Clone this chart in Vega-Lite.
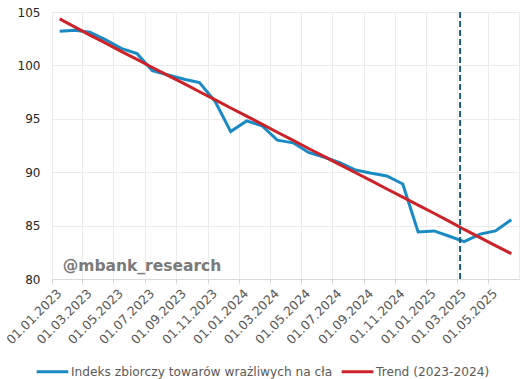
{
  "$schema": "https://vega.github.io/schema/vega-lite/v6.json",
  "autosize": "none",
  "width": 467,
  "height": 267,
  "padding": {"left": 52, "top": 12, "right": 7, "bottom": 100},
  "background": "white",
  "config": {
    "font": "DejaVu Sans",
    "view": {"stroke": "#EBEBEB"}
  },
  "datasets": {
    "series": [
      {"date": "2023-01-16", "value": 103.2, "s": "Indeks zbiorczy towarów wrażliwych na cła"},
      {"date": "2023-02-15", "value": 103.3, "s": "Indeks zbiorczy towarów wrażliwych na cła"},
      {"date": "2023-03-16", "value": 103.1, "s": "Indeks zbiorczy towarów wrażliwych na cła"},
      {"date": "2023-04-16", "value": 102.4, "s": "Indeks zbiorczy towarów wrażliwych na cła"},
      {"date": "2023-05-16", "value": 101.6, "s": "Indeks zbiorczy towarów wrażliwych na cła"},
      {"date": "2023-06-16", "value": 101.1, "s": "Indeks zbiorczy towarów wrażliwych na cła"},
      {"date": "2023-07-16", "value": 99.5, "s": "Indeks zbiorczy towarów wrażliwych na cła"},
      {"date": "2023-08-16", "value": 99.1, "s": "Indeks zbiorczy towarów wrażliwych na cła"},
      {"date": "2023-09-16", "value": 98.7, "s": "Indeks zbiorczy towarów wrażliwych na cła"},
      {"date": "2023-10-16", "value": 98.4, "s": "Indeks zbiorczy towarów wrażliwych na cła"},
      {"date": "2023-11-16", "value": 96.6, "s": "Indeks zbiorczy towarów wrażliwych na cła"},
      {"date": "2023-12-16", "value": 93.8, "s": "Indeks zbiorczy towarów wrażliwych na cła"},
      {"date": "2024-01-16", "value": 94.8, "s": "Indeks zbiorczy towarów wrażliwych na cła"},
      {"date": "2024-02-15", "value": 94.35, "s": "Indeks zbiorczy towarów wrażliwych na cła"},
      {"date": "2024-03-16", "value": 93.0, "s": "Indeks zbiorczy towarów wrażliwych na cła"},
      {"date": "2024-04-16", "value": 92.75, "s": "Indeks zbiorczy towarów wrażliwych na cła"},
      {"date": "2024-05-16", "value": 91.85, "s": "Indeks zbiorczy towarów wrażliwych na cła"},
      {"date": "2024-06-16", "value": 91.4, "s": "Indeks zbiorczy towarów wrażliwych na cła"},
      {"date": "2024-07-16", "value": 90.9, "s": "Indeks zbiorczy towarów wrażliwych na cła"},
      {"date": "2024-08-16", "value": 90.2, "s": "Indeks zbiorczy towarów wrażliwych na cła"},
      {"date": "2024-09-16", "value": 89.9, "s": "Indeks zbiorczy towarów wrażliwych na cła"},
      {"date": "2024-10-16", "value": 89.65, "s": "Indeks zbiorczy towarów wrażliwych na cła"},
      {"date": "2024-11-16", "value": 88.9, "s": "Indeks zbiorczy towarów wrażliwych na cła"},
      {"date": "2024-12-16", "value": 84.4, "s": "Indeks zbiorczy towarów wrażliwych na cła"},
      {"date": "2025-01-16", "value": 84.5, "s": "Indeks zbiorczy towarów wrażliwych na cła"},
      {"date": "2025-02-15", "value": 84.0, "s": "Indeks zbiorczy towarów wrażliwych na cła"},
      {"date": "2025-03-16", "value": 83.5, "s": "Indeks zbiorczy towarów wrażliwych na cła"},
      {"date": "2025-04-16", "value": 84.2, "s": "Indeks zbiorczy towarów wrażliwych na cła"},
      {"date": "2025-05-16", "value": 84.5, "s": "Indeks zbiorczy towarów wrażliwych na cła"},
      {"date": "2025-06-16", "value": 85.55, "s": "Indeks zbiorczy towarów wrażliwych na cła"},
      {"date": "2023-01-16", "value": 104.35, "s": "Trend (2023-2024)"},
      {"date": "2023-02-15", "value": 103.59, "s": "Trend (2023-2024)"},
      {"date": "2023-03-16", "value": 102.83, "s": "Trend (2023-2024)"},
      {"date": "2023-04-16", "value": 102.08, "s": "Trend (2023-2024)"},
      {"date": "2023-05-16", "value": 101.32, "s": "Trend (2023-2024)"},
      {"date": "2023-06-16", "value": 100.56, "s": "Trend (2023-2024)"},
      {"date": "2023-07-16", "value": 99.8, "s": "Trend (2023-2024)"},
      {"date": "2023-08-16", "value": 99.04, "s": "Trend (2023-2024)"},
      {"date": "2023-09-16", "value": 98.29, "s": "Trend (2023-2024)"},
      {"date": "2023-10-16", "value": 97.53, "s": "Trend (2023-2024)"},
      {"date": "2023-11-16", "value": 96.77, "s": "Trend (2023-2024)"},
      {"date": "2023-12-16", "value": 96.01, "s": "Trend (2023-2024)"},
      {"date": "2024-01-16", "value": 95.25, "s": "Trend (2023-2024)"},
      {"date": "2024-02-15", "value": 94.5, "s": "Trend (2023-2024)"},
      {"date": "2024-03-16", "value": 93.74, "s": "Trend (2023-2024)"},
      {"date": "2024-04-16", "value": 92.98, "s": "Trend (2023-2024)"},
      {"date": "2024-05-16", "value": 92.22, "s": "Trend (2023-2024)"},
      {"date": "2024-06-16", "value": 91.46, "s": "Trend (2023-2024)"},
      {"date": "2024-07-16", "value": 90.71, "s": "Trend (2023-2024)"},
      {"date": "2024-08-16", "value": 89.95, "s": "Trend (2023-2024)"},
      {"date": "2024-09-16", "value": 89.19, "s": "Trend (2023-2024)"},
      {"date": "2024-10-16", "value": 88.43, "s": "Trend (2023-2024)"},
      {"date": "2024-11-16", "value": 87.67, "s": "Trend (2023-2024)"},
      {"date": "2024-12-16", "value": 86.92, "s": "Trend (2023-2024)"},
      {"date": "2025-01-16", "value": 86.16, "s": "Trend (2023-2024)"},
      {"date": "2025-02-15", "value": 85.4, "s": "Trend (2023-2024)"},
      {"date": "2025-03-16", "value": 84.64, "s": "Trend (2023-2024)"},
      {"date": "2025-04-16", "value": 83.88, "s": "Trend (2023-2024)"},
      {"date": "2025-05-16", "value": 83.13, "s": "Trend (2023-2024)"},
      {"date": "2025-06-16", "value": 82.37, "s": "Trend (2023-2024)"}
    ],
    "marker": [{"date": "2025-03-08"}],
    "note": [{"date": "2023-01-22", "value": 81.25, "label": "@mbank_research"}]
  },
  "encoding": {
    "x": {
      "field": "date",
      "type": "temporal",
      "scale": {"type": "utc", "domain": [{"year": 2023, "month": 1, "date": 1, "utc": true}, {"year": 2025, "month": 7, "date": 1, "utc": true}]},
      "axis": {
        "title": null,
        "values": [
          {"year": 2023, "month": 1, "date": 1, "utc": true},
          {"year": 2023, "month": 3, "date": 1, "utc": true},
          {"year": 2023, "month": 5, "date": 1, "utc": true},
          {"year": 2023, "month": 7, "date": 1, "utc": true},
          {"year": 2023, "month": 9, "date": 1, "utc": true},
          {"year": 2023, "month": 11, "date": 1, "utc": true},
          {"year": 2024, "month": 1, "date": 1, "utc": true},
          {"year": 2024, "month": 3, "date": 1, "utc": true},
          {"year": 2024, "month": 5, "date": 1, "utc": true},
          {"year": 2024, "month": 7, "date": 1, "utc": true},
          {"year": 2024, "month": 9, "date": 1, "utc": true},
          {"year": 2024, "month": 11, "date": 1, "utc": true},
          {"year": 2025, "month": 1, "date": 1, "utc": true},
          {"year": 2025, "month": 3, "date": 1, "utc": true},
          {"year": 2025, "month": 5, "date": 1, "utc": true}
        ],
        "format": "%d.%m.%Y",
        "labelAngle": -45,
        "labelAlign": "right",
        "labelBaseline": "middle",
        "labelFontSize": 12.5,
        "labelColor": "#595959",
        "labelPadding": 7,
        "labelOffset": 7,
        "labelOverlap": false,
        "labelBound": false,
        "labelFlush": false,
        "domainColor": "#D9D9D9",
        "tickColor": "#D9D9D9",
        "tickSize": 5,
        "gridColor": "#EBEBEB",
        "grid": true
      }
    }
  },
  "layer": [
    {
      "data": {"name": "series"},
      "mark": {"type": "line", "strokeWidth": 3},
      "encoding": {
        "y": {
          "field": "value",
          "type": "quantitative",
          "scale": {"domain": [80, 105], "nice": false, "zero": false},
          "axis": {
            "title": null,
            "values": [80, 85, 90, 95, 100, 105],
            "domain": false,
            "ticks": false,
            "labelPadding": 12,
            "labelFontSize": 12,
            "labelColor": "#262626",
            "gridColor": "#EBEBEB"
          }
        },
        "color": {
          "field": "s",
          "type": "nominal",
          "scale": {
            "domain": ["Indeks zbiorczy towarów wrażliwych na cła", "Trend (2023-2024)"],
            "range": ["#1A8AC4", "#CC2229"]
          },
          "legend": {
            "title": null,
            "orient": "none",
            "legendX": -17,
            "legendY": 342,
            "direction": "horizontal",
            "symbolType": "stroke",
            "symbolSize": 1000,
            "symbolStrokeWidth": 3,
            "labelFontSize": 12.2,
            "labelColor": "#595959",
            "labelLimit": 400,
            "columnPadding": 2,
            "labelOffset": 1
          }
        }
      }
    },
    {
      "data": {"name": "marker"},
      "mark": {"type": "rule", "color": "#1D5B79", "strokeWidth": 2, "strokeDash": [6, 3]},
      "encoding": {}
    },
    {
      "data": {"name": "note"},
      "mark": {"type": "text", "align": "left", "baseline": "middle", "fontSize": 15.5, "fontWeight": "bold", "color": "#7A7A7A"},
      "encoding": {
        "y": {"field": "value", "type": "quantitative"},
        "text": {"field": "label"}
      }
    }
  ]
}
